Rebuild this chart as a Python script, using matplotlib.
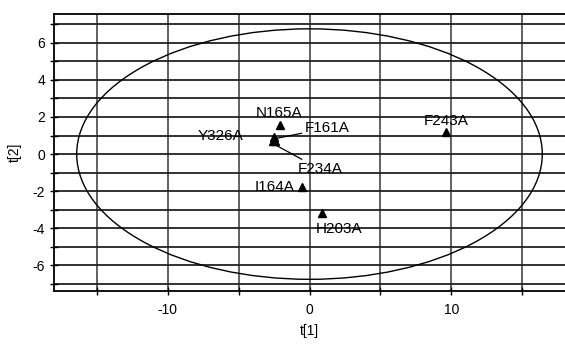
import matplotlib
matplotlib.use("Agg")
import matplotlib.pyplot as plt
from matplotlib.patches import Ellipse
import numpy as np

plt.rcParams['font.family'] = ['Liberation Sans', 'DejaVu Sans']
plt.rcParams['axes.unicode_minus'] = False

# Data
labels = ["Y326A", "F161A", "F234A", "N165A", "F243A", "I164A", "H203A"]
t1 = [-2.6, -2.4, -2.5, -2.1, 9.6, -0.5, 0.85]
t2 = [0.72, 0.72, 0.92, 1.58, 1.19, -1.80, -3.2]
# label text positions
lab_x = [-6.27, -0.35, -0.85, -2.15, 9.6, -2.43, 2.08]
lab_y = [0.97, 1.40, -0.81, 2.21, 1.80, -1.78, -4.04]
lab_ha = ["center", "left", "left", "center", "center", "center", "center"]
lab_line = [False, True, True, False, False, False, False]

ellipse_a = 16.4
ellipse_b = 6.75

xticks = [-10, 0, 10]
yticks = [-6, -4, -2, 0, 2, 4, 6]

fig = plt.figure(figsize=(5.65, 3.44), dpi=100)
ax = fig.add_axes([54/565, 53/344, 1 - 54/565, 277/344])
ax.set_xlim(-18, 18)
ax.set_ylim(-7.38, 7.55)

# grid
for gx in np.arange(-15, 16, 5):
    ax.axvline(gx, color='#555555', lw=1.3, zorder=1)
for gy in np.arange(-7, 8, 1):
    ax.axhline(gy, color='#222222', lw=1.3, zorder=1)

ax.add_patch(Ellipse((0, 0), 2*ellipse_a, 2*ellipse_b, fill=False,
                     edgecolor='black', lw=1.0, zorder=3))

ax.plot(t1, t2, linestyle='none', marker='^', color='black', ms=5.5, zorder=4)

for lab, px, py, tx, ty, ha, ln in zip(labels, t1, t2, lab_x, lab_y, lab_ha, lab_line):
    if ln:
        ax.annotate(lab, xy=(-2.3, 0.85 if lab == "F161A" else 0.45), xytext=(tx, ty),
                    textcoords='data', ha=ha, va='center', fontsize=11,
                    arrowprops=dict(arrowstyle='-', color='black', lw=0.9,
                                    shrinkA=0, shrinkB=0), zorder=5)
    else:
        ax.text(tx, ty, lab, ha=ha, va='center', fontsize=11, zorder=5)

ax.set_xticks(np.arange(-15, 16, 5))
ax.set_xticklabels([str(v) if v in xticks else "" for v in np.arange(-15, 16, 5)])
ax.set_yticks(np.arange(-7, 8, 1))
ax.set_yticklabels([str(v) if v in yticks else "" for v in np.arange(-7, 8, 1)])
ax.tick_params(axis='both', direction='inout', length=6, width=1, labelsize=10)
ax.tick_params(axis='x', pad=6)

for s in ['left', 'bottom', 'top']:
    ax.spines[s].set_linewidth(1.3)
ax.spines['right'].set_visible(False)

ax.set_xlabel("t[1]", fontsize=10, labelpad=5)
ax.set_ylabel("t[2]", fontsize=10, labelpad=8)

fig.savefig("out.png", dpi=100)
